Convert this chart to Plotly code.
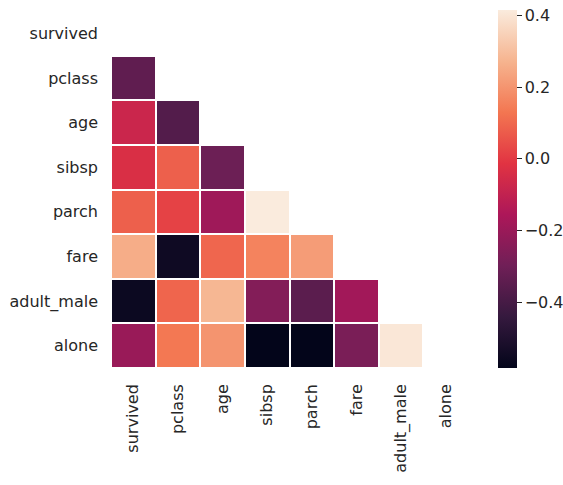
import plotly.graph_objects as go

labels = ["survived", "pclass", "age", "sibsp", "parch", "fare", "adult_male", "alone"]

# lower-triangle correlation values (row i, columns 0..i-1)
row_pclass = [-0.338]
row_age = [-0.077, -0.369]
row_sibsp = [-0.035, 0.083, -0.308]
row_parch = [0.082, 0.018, -0.189, 0.415]
row_fare = [0.257, -0.549, 0.096, 0.160, 0.216]
row_adult_male = [-0.557, 0.094, 0.280, -0.254, -0.350, -0.182]
row_alone = [-0.203, 0.135, 0.198, -0.584, -0.583, -0.274, 0.404]

rows = [[], row_pclass, row_age, row_sibsp, row_parch, row_fare, row_adult_male, row_alone]
n = len(labels)
z = [r + [None] * (n - len(r)) for r in rows]

rocket = [
    [0.0, "#03051A"],
    [0.143, "#35193E"],
    [0.286, "#701F57"],
    [0.429, "#AD1759"],
    [0.571, "#E13342"],
    [0.714, "#F37651"],
    [0.857, "#F6B48F"],
    [1.0, "#FAEBDD"],
]

FS = 16
TXT = "#262626"
vals = [v for r in rows for v in r]
fig = go.Figure(go.Heatmap(
    z=z, x=labels, y=labels,
    colorscale=rocket,
    zmin=min(vals), zmax=max(vals),
    xgap=2, ygap=2,
    hoverongaps=False,
    colorbar=dict(
        thickness=19, len=358, lenmode="pixels",
        x=1.0 + (498 - 468) / 357, xanchor="left", xpad=0,
        y=1.0 + 1 / 357, yanchor="top", ypad=0,
        tickvals=[-0.4, -0.2, 0.0, 0.2, 0.4],
        ticktext=["\u22120.4", "\u22120.2", "0.0", "0.2", "0.4"],
        ticks="outside", ticklen=5, tickcolor=TXT,
        outlinewidth=0,
        tickfont=dict(size=FS, color=TXT, family="DejaVu Sans"),
    ),
))

fig.update_layout(
    width=563, height=485,
    margin=dict(l=111, r=95, t=11, b=117, autoexpand=False),
    paper_bgcolor="white", plot_bgcolor="white",
    font=dict(family="DejaVu Sans", size=FS, color=TXT),
)
fig.update_xaxes(showgrid=False, zeroline=False, tickangle=-90, ticks="",
                 showline=False, ticklabelstandoff=12, automargin=False)
fig.update_yaxes(showgrid=False, zeroline=False, autorange="reversed", ticks="",
                 showline=False, ticklabelstandoff=12, automargin=False)
fig.write_html("out.html",
               config={"displayModeBar": False},
               post_script="document.body.style.margin='0';document.body.style.overflow='hidden';")
